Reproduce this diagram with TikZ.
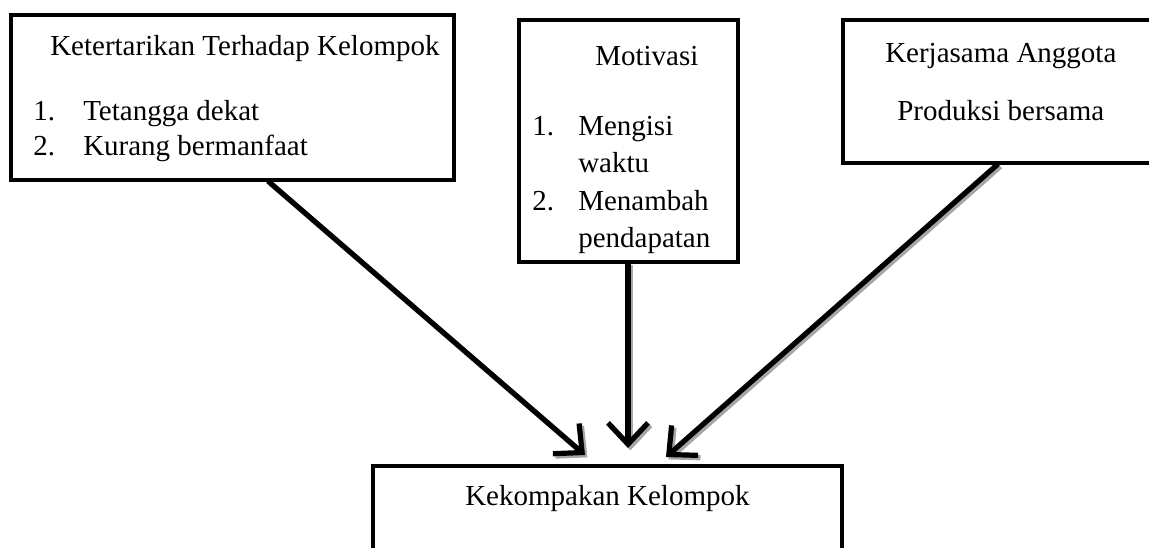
\documentclass[tikz,border=0pt]{standalone}
\usepackage{fontspec}
\setmainfont{Liberation Serif}
\usetikzlibrary{arrows.meta,fit}
\begin{document}
\begin{tikzpicture}[x=0.75pt,y=-0.75pt,
  boxline/.style={draw=black, line width=3.6pt, inner sep=0pt, rectangle},
  txt/.style={anchor=base west, inner sep=0pt, font=\fontsize{21.75}{26}\selectfont},
  conn/.style={line width=3.9pt, -{Straight Barb[length=16pt,width=30pt,line width=3.9pt]}},
  connshadow/.style={conn, draw=black!35, transform canvas={shift={(1.8pt,-1.8pt)}}}]
\useasboundingbox (0,0) rectangle (1149,547);
\clip (0,0) rectangle (1149,547);
\fill[white] (0,0) rectangle (1149,547);

% boxes
\node[boxline, fit={(11,15) (454,180)}] (box1) {};
\node[boxline, fit={(519,20) (738,262)}] (box2) {};
\node[boxline, fit={(843,20) (1162,163)}] (box3) {};
\node[boxline, fit={(373,466) (842,620)}] (box4) {};

% texts box 1
\node[txt] (t1) at (50,55) {Ketertarikan Terhadap Kelompok};
\node[txt] (t1n1) at (33,120) {1.};
\node[txt] (t1i1) at (83,120) {Tetangga dekat};
\node[txt] (t1n2) at (33,155) {2.};
\node[txt] (t1i2) at (83,155) {Kurang bermanfaat};

% texts box 2
\node[txt] (t2) at (595,65) {Motivasi};
\node[txt] (t2n1) at (532,135) {1.};
\node[txt] (t2i1) at (578,135) {Mengisi};
\node[txt] (t2i1b) at (578,172) {waktu};
\node[txt] (t2n2) at (532,210) {2.};
\node[txt] (t2i2) at (578,210) {Menambah};
\node[txt] (t2i2b) at (578,247) {pendapatan};

% texts box 3
\node[txt] (t3) at (885,62) {Kerjasama Anggota};
\node[txt] (t3b) at (897,120) {Produksi bersama};

% text box 4
\node[txt] (t4) at (465,505) {Kekompakan Kelompok};

% connectors
\coordinate (c1s) at (268,181);
\coordinate (c1e) at (585,455);
\coordinate (c2s) at (628,263);
\coordinate (c2e) at (628,448);
\coordinate (c3s) at (998,164);
\coordinate (c3e) at (666,457);

\draw[connshadow] (c1s) -- (c1e);
\draw[connshadow] (c2s) -- (c2e);
\draw[connshadow] (c3s) -- (c3e);
\draw[conn] (c1s) -- (c1e);
\draw[conn] (c2s) -- (c2e);
\draw[conn] (c3s) -- (c3e);
\end{tikzpicture}
\end{document}
